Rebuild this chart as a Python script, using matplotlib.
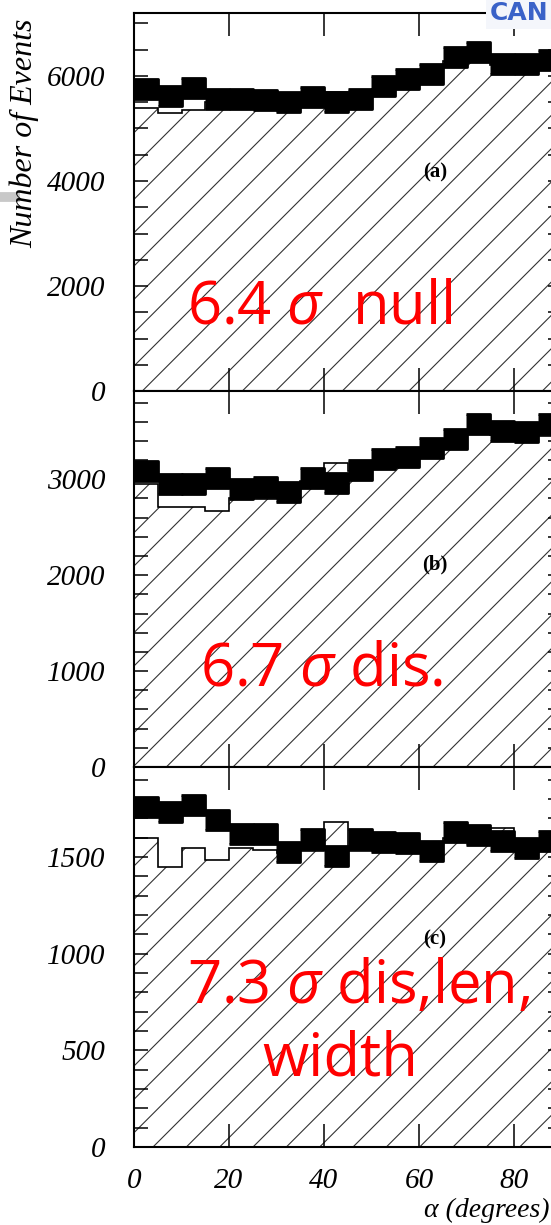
import numpy as np
import matplotlib.pyplot as plt
from matplotlib.ticker import MultipleLocator
from matplotlib.patches import Rectangle

plt.rcParams['mathtext.fontset'] = 'custom'
plt.rcParams['mathtext.rm'] = 'Open Sans'
plt.rcParams['mathtext.it'] = 'Open Sans:italic'
plt.rcParams['hatch.linewidth'] = 0.4
plt.rcParams['hatch.color'] = '#333333'

# alpha bins, 5 degrees wide
edges = np.arange(0, 95, 5)
centers = edges[:-1] + 2.5

# (a) null cut
on_a = [5750, 5625, 5765, 5560, 5570, 5550, 5510, 5605, 5510, 5560,
        5815, 5950, 6040, 6370, 6460, 6230, 6230, 6305]
off_a = [5390, 5300, 5350, 5500, 5520, 5500, 5480, 5560, 5700, 5540,
         5760, 5900, 6000, 6290, 6300, 6200, 6200, 6150]

# (b) distance cut
on_b = [3086, 2947, 2947, 3009, 2894, 2923, 2871, 3017, 2957, 3096,
        3208, 3236, 3330, 3417, 3574, 3500, 3490, 3574]
off_b = [2947, 2706, 2706, 2668, 2800, 2790, 2850, 2980, 3173, 3090,
         3180, 3230, 3300, 3400, 3500, 3460, 3470, 3450]

# (c) distance, length, width cuts
on_c = [1760, 1730, 1770, 1690, 1620, 1620, 1525, 1590, 1505, 1590,
        1575, 1570, 1530, 1630, 1615, 1580, 1545, 1580]
off_c = [1598, 1450, 1545, 1485, 1545, 1536, 1520, 1528, 1680, 1528,
         1550, 1550, 1540, 1600, 1600, 1652, 1560, 1536]

ymax = [7200, 3920, 1965]
ymajor = [2000, 1000, 500]
yminor = [500, 200, 100]
tags = ['(a)', '(b)', '(c)']
tag_y = [4170, 2111, 1071]

sig_lines = [
    [(11.2, 1295, '6.4 $\\sigma$  null')],
    [(13.9, 845, '6.7 $\\sigma$ dis.')],
    [(11.2, 745, '7.3 $\\sigma$ dis,len,'), (26.9, 372, 'width')],
]

# axes rectangles [left, bottom, width, height] in figure fraction
boxes = [[0.2432, 0.6808, 0.776, 0.3086],
         [0.2432, 0.3739, 0.776, 0.3069],
         [0.2432, 0.0637, 0.776, 0.3102]]

rect = [(-1.2, -1), (1.2, -1), (1.2, 1), (-1.2, 1)]
tickfont = dict(family='Liberation Serif', style='italic', size=10.5)

fig = plt.figure(figsize=(2.755, 6.125), dpi=200)

for i, (on, off) in enumerate([(on_a, off_a), (on_b, off_b), (on_c, off_c)]):
    ax = fig.add_axes(boxes[i])
    ax.stairs(off, edges, baseline=0, fill=True, facecolor='white',
              edgecolor='#333333', hatch='//', lw=0)
    ax.stairs(off, edges, baseline=0, color='black', lw=0.6)
    ax.plot(centers, on, ls='none', marker=rect, ms=8.3, color='black')

    ax.set_xlim(0, 90)
    ax.set_ylim(0, ymax[i])
    ax.xaxis.set_major_locator(MultipleLocator(20))
    ax.yaxis.set_major_locator(MultipleLocator(ymajor[i]))
    ax.yaxis.set_minor_locator(MultipleLocator(yminor[i]))
    ax.tick_params(axis='both', which='both', direction='in',
                   top=True, right=True, width=0.55)
    ax.tick_params(axis='x', which='major', length=8.3, pad=7.5)
    ax.tick_params(axis='y', which='both', length=5, pad=10.4)
    for lab in ax.get_xticklabels() + ax.get_yticklabels():
        lab.set_fontproperties(tickfont)
    if i < 2:
        ax.tick_params(labelbottom=False)
    for sp in ax.spines.values():
        sp.set_linewidth(0.75)

    ax.text(63.3, tag_y[i], tags[i], ha='center', va='center',
            family='Liberation Serif', fontweight='bold', fontsize=7.5)
    for x, y, s in sig_lines[i]:
        ax.text(x, y, s, color='red', family='Open Sans', fontsize=21.5,
                va='baseline', ha='left')

fig.text(0.045, 1 - 248 / 1225, 'Number of Events', rotation=90,
         ha='center', va='bottom', family='Liberation Serif',
         style='italic', fontsize=11.5)
fig.text(424 / 551, 1 - 1217 / 1225, '\u03b1 (degrees)', ha='left',
         va='baseline', family='Liberation Serif', style='italic',
         fontsize=10)
fig.text(490 / 551, 1 - 20 / 1225, 'CAN', ha='left', va='baseline',
         color='#3a62c8', fontweight='bold', family='DejaVu Sans',
         fontsize=9,
         bbox=dict(facecolor='#f4f6fb', edgecolor='none', pad=1.5))
fig.patches.append(Rectangle((0, 1 - 200 / 1225), 18 / 551, 7 / 1225,
                             transform=fig.transFigure, color='#c8c8c8'))

fig.savefig('out.png', dpi=200)
